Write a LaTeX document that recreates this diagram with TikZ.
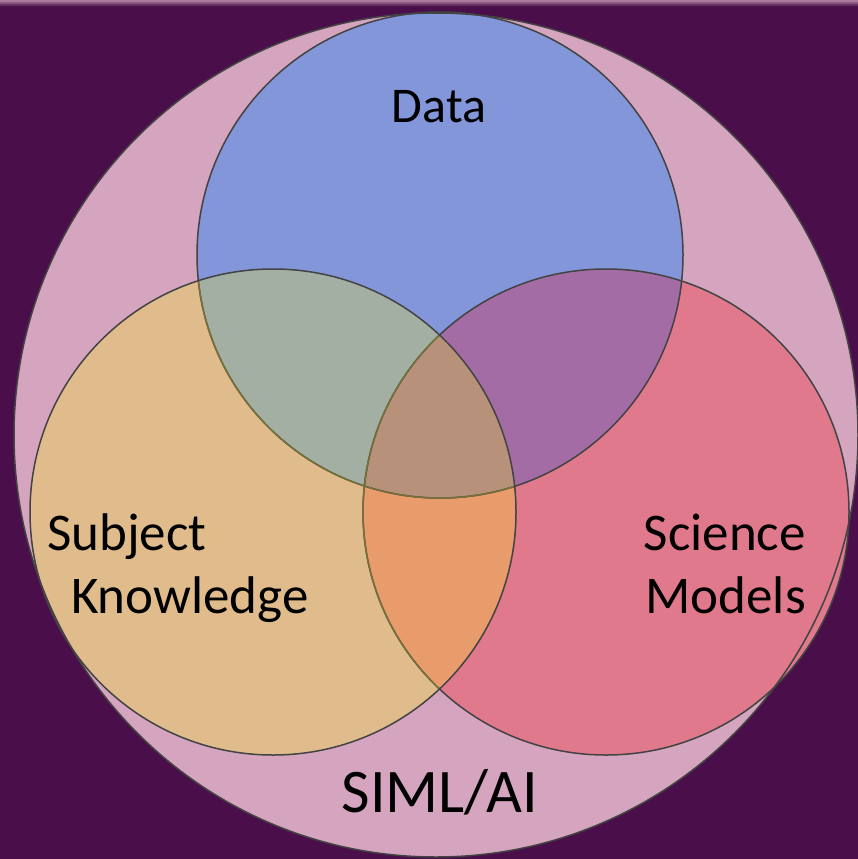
\documentclass[tikz,border=0pt]{standalone}
\usepackage{fontspec}
\setmainfont{Carlito}
\usetikzlibrary{positioning}
\definecolor{bgpurple}{HTML}{4A0E4A}
\definecolor{stripa}{HTML}{A97C9C}
\definecolor{stripb}{HTML}{8A5684}
\definecolor{stripc}{HTML}{66305F}
\definecolor{simlpink}{HTML}{D5A4BE}
\definecolor{datablue}{HTML}{8396D9}
\definecolor{subjtan}{HTML}{E0BC8C}
\definecolor{scired}{HTML}{DF798B}
\definecolor{dsubj}{HTML}{A3AFA3}
\definecolor{dsci}{HTML}{A46CA4}
\definecolor{subjsci}{HTML}{E89B6B}
\definecolor{allthree}{HTML}{B8917B}
\definecolor{ringgray}{HTML}{434343}
\definecolor{ringolive}{HTML}{76703A}
\tikzset{ring/.style={draw=ringgray,line width=1.5pt},
         innerring/.style={draw=ringolive,line width=1.5pt},
         label/.style={inner sep=0pt,font=\fontsize{50}{60}\selectfont},
         sidelabel/.style={label,font=\fontsize{53}{64}\selectfont}
}

\begin{document}
\begin{tikzpicture}[x=1pt,y=-1pt]
\useasboundingbox (0,0) rectangle (858,859);
\fill[bgpurple] (0,0) rectangle (858,859);
\fill[stripa] (0,0) rectangle (858,2);
\fill[stripb] (0,2) rectangle (858,4);
\fill[stripc] (0,4) rectangle (858,6);

\coordinate (simlc) at (436,435);
\coordinate (datac) at (440,255);
\coordinate (subjc) at (273,512);
\coordinate (scic) at (606,512);

% circles
\fill[simlpink] (simlc) circle (422);
\fill[datablue] (datac) circle (243);
\fill[scired] (scic) circle (243);
\fill[subjtan] (subjc) circle (243);

% overlaps
\begin{scope}
\clip (datac) circle (243);
\fill[dsubj] (subjc) circle (243);
\fill[dsci] (scic) circle (243);
\end{scope}
\begin{scope}
\clip (subjc) circle (243);
\fill[subjsci] (scic) circle (243);
\clip (datac) circle (243);
\fill[allthree] (scic) circle (243);
\end{scope}

% outlines
\draw[ring] (simlc) circle (422);
\draw[ring] (datac) circle (243);
\draw[ring] (scic) circle (243);
\begin{scope}
\clip (subjc) circle (243);
\draw[innerring] (datac) circle (243);
\draw[innerring] (scic) circle (243);
\end{scope}
\draw[ring] (subjc) circle (243);

% labels
\node[label,anchor=base] (data) at (439,122) {Data};
\node[sidelabel,anchor=base west] (subject) at (47,550) {Subject};
\node[sidelabel,anchor=base west] (knowledge) at (71,613) {Knowledge};
\node[sidelabel,anchor=base east] (science) at (806,550) {Science};
\node[sidelabel,anchor=base east] (models) at (806,613) {Models};
\node[label,anchor=base,font=\fontsize{62}{74}\selectfont] (siml) at (440,812) {SIML/AI};

\end{tikzpicture}
\end{document}
